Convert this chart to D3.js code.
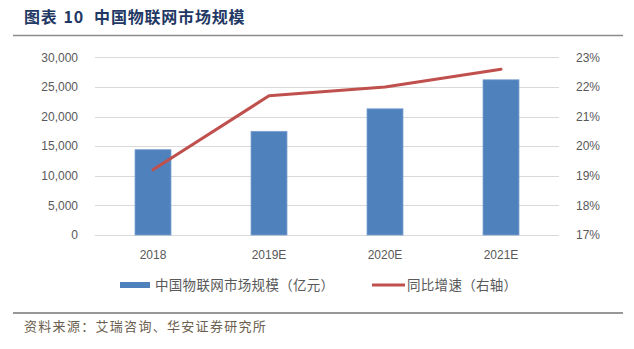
<!DOCTYPE html>
<html>
<head>
<meta charset="utf-8">
<style>
  body { margin: 0; background: #fff; }
  svg { display: block; font-family: "Liberation Sans", "Noto Sans CJK SC", sans-serif; }
  .grid line { stroke: #d9d9d9; stroke-width: 1; }
  .tick-label { fill: #595959; font-size: 12px; }
</style>
</head>
<body>
<svg width="634" height="349"></svg>
<script src="https://cdn.jsdelivr.net/npm/d3@7"></script>
<script>
// 数据
var years = ["2018", "2019E", "2020E", "2021E"];
var marketSize = [14400, 17500, 21300, 26200];     // 亿元
var growthRate = [19.2, 21.7, 22.0, 22.6];          // %
var leftTicks = [0, 5000, 10000, 15000, 20000, 25000, 30000];
var rightTicks = [17, 18, 19, 20, 21, 22, 23];

var svg = d3.select("svg");

// 标题
var title = svg.append("text")
  .attr("x", 24).attr("y", 23)
  .attr("font-family", "'Noto Sans CJK SC', sans-serif")
  .attr("font-weight", "bold")
  .attr("font-size", 16)
  .attr("letter-spacing", 0.8)
  .attr("fill", "#1f3864");
title.append("tspan").text("图表");
title.append("tspan").attr("dx", 6).text("10");
title.append("tspan").attr("dx", 10).text("中国物联网市场规模");

svg.append("line")
  .attr("x1", 13).attr("x2", 623).attr("y1", 35.5).attr("y2", 35.5)
  .attr("stroke", "#8c8c8c").attr("stroke-width", 1.6);

// 坐标
var plotL = 95, plotR = 559, plotT = 57.3, plotB = 235;

var x = d3.scaleBand().domain(years).range([plotL, plotR]).paddingInner(0.69).paddingOuter(0.345);
var yL = d3.scaleLinear().domain([0, 30000]).range([plotB, plotT]);
var yR = d3.scaleLinear().domain([17, 23]).range([plotB, plotT]);

// 网格线
svg.append("g").attr("class", "grid")
  .selectAll("line").data(leftTicks).enter().append("line")
  .attr("x1", plotL).attr("x2", plotR)
  .attr("y1", function(d) { return Math.round(yL(d)) + 0.5; })
  .attr("y2", function(d) { return Math.round(yL(d)) + 0.5; });

// 左轴
var axL = svg.append("g").attr("transform", "translate(" + (plotL - 14) + ",0)")
  .call(d3.axisLeft(yL).tickValues(leftTicks).tickSize(0).tickFormat(d3.format(",")));
axL.select(".domain").remove();
axL.selectAll("text").attr("class", "tick-label").attr("font-family", "'Liberation Sans', sans-serif");

// 右轴
var axR = svg.append("g").attr("transform", "translate(" + (plotR + 14) + ",0)")
  .call(d3.axisRight(yR).tickValues(rightTicks).tickSize(0).tickFormat(function(d) { return d + "%"; }));
axR.select(".domain").remove();
axR.selectAll("text").attr("class", "tick-label").attr("font-family", "'Liberation Sans', sans-serif");

// x轴标签
var axX = svg.append("g").attr("transform", "translate(0," + (plotB + 12) + ")")
  .call(d3.axisBottom(x).tickSize(0));
axX.select(".domain").remove();
axX.selectAll("text").attr("class", "tick-label").attr("font-family", "'Liberation Sans', sans-serif");

// 柱
svg.append("g").selectAll("rect").data(marketSize).enter().append("rect")
  .attr("x", function(d, i) { return x(years[i]); })
  .attr("width", x.bandwidth())
  .attr("y", function(d) { return yL(d); })
  .attr("height", function(d) { return plotB - yL(d); })
  .attr("fill", "#4f81bd")
  .attr("stroke", "#7a9fd0").attr("stroke-width", 0.8);

// 折线
var line = d3.line()
  .x(function(d, i) { return x(years[i]) + x.bandwidth() / 2; })
  .y(function(d) { return yR(d); });

svg.append("path").datum(growthRate)
  .attr("d", line)
  .attr("fill", "none")
  .attr("stroke", "#c0504d")
  .attr("stroke-width", 3)
  .attr("stroke-linecap", "round")
  .attr("stroke-linejoin", "round");

// 图例
var legFont = "'Noto Sans CJK SC', sans-serif";
svg.append("rect").attr("x", 120).attr("y", 282).attr("width", 30).attr("height", 6).attr("fill", "#4f81bd");
svg.append("text").attr("x", 155).attr("y", 290).attr("font-size", 13.5).attr("letter-spacing", 0.3)
  .attr("fill", "#595959").attr("font-family", legFont).text("中国物联网市场规模（亿元）");

svg.append("line").attr("x1", 372).attr("x2", 405).attr("y1", 285).attr("y2", 285)
  .attr("stroke", "#c0504d").attr("stroke-width", 3);
svg.append("text").attr("x", 407).attr("y", 290).attr("font-size", 13.5).attr("letter-spacing", 0.3)
  .attr("fill", "#595959").attr("font-family", legFont).text("同比增速（右轴）");

// 来源
svg.append("line")
  .attr("x1", 13).attr("x2", 623).attr("y1", 313).attr("y2", 313)
  .attr("stroke", "#333").attr("stroke-width", 1.2);
svg.append("text").attr("x", 24).attr("y", 331).attr("font-size", 13).attr("letter-spacing", 1.3)
  .attr("fill", "#6b5e4e").attr("font-family", legFont).text("资料来源：艾瑞咨询、华安证券研究所");
</script>
</body>
</html>
